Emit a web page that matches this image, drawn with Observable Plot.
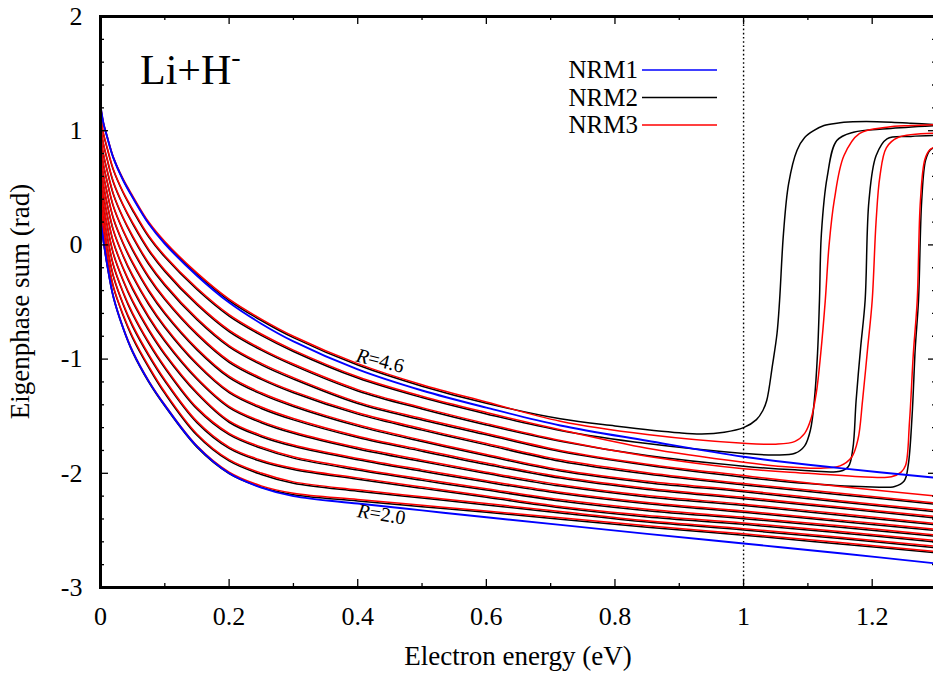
<!DOCTYPE html>
<html>
<head>
<meta charset="utf-8">
<script src="https://cdn.jsdelivr.net/npm/d3@7"></script>
<script src="https://cdn.jsdelivr.net/npm/@observablehq/plot@0.6"></script>
<style>
  html, body { margin: 0; padding: 0; background: #fff; overflow: hidden; }
  #chart svg { display: block; }
</style>
</head>
<body>
<div id="chart"></div>
<script>
// ---------------- DATA ----------------
// shared electron-energy grid (eV)
const energy = [0, 0.005, 0.01, 0.02, 0.035, 0.05, 0.075, 0.1, 0.15, 0.2, 0.25, 0.3, 0.4, 0.5, 0.6, 0.715, 0.85, 1.0, 1.15, 1.3];

// NRM1 (blue): only R=2.0 and R=4.6
const nrm1R20 = [0.22, 0.02, -0.16, -0.455, -0.725, -0.935, -1.195, -1.405, -1.765, -2.0, -2.125, -2.20, -2.265, -2.325, -2.385, -2.452, -2.53, -2.615, -2.70, -2.79];
const nrm1R46 = [1.22, 1.055, 0.952, 0.762, 0.568, 0.415, 0.185, 0.01, -0.27, -0.505, -0.69, -0.845, -1.09, -1.275, -1.425, -1.581, -1.715, -1.855, -1.955, -2.04];

// NRM3 (red): curves from R=4.6 (top) down to R=2.0 (bottom), values on the grid
const nrm3 = [
  [1.22, 1.06, 0.96, 0.77, 0.58, 0.43, 0.20, 0.03, -0.245, -0.475, -0.65, -0.80, -1.04, -1.225, -1.375, -1.544, -1.66],
  [1.132, 0.968, 0.861, 0.663, 0.467, 0.313, 0.08, -0.095, -0.378, -0.611, -0.78, -0.921, -1.154, -1.325, -1.468, -1.619, -1.78, -1.903],
  [1.044, 0.877, 0.763, 0.555, 0.355, 0.196, -0.039, -0.22, -0.512, -0.747, -0.91, -1.043, -1.267, -1.425, -1.565, -1.713, -1.85, -1.96],
  [0.957, 0.786, 0.665, 0.449, 0.243, 0.08, -0.158, -0.343, -0.643, -0.881, -1.038, -1.163, -1.377, -1.521, -1.651, -1.800, -1.92, -2.02, -2.115, -2.20],
  [0.87, 0.696, 0.568, 0.343, 0.132, -0.036, -0.276, -0.467, -0.775, -1.016, -1.166, -1.283, -1.47, -1.61, -1.739, -1.882, -1.995, -2.09, -2.175, -2.26],
  [0.783, 0.605, 0.471, 0.237, 0.021, -0.151, -0.394, -0.591, -0.907, -1.15, -1.295, -1.403, -1.575, -1.71, -1.835, -1.968, -2.07, -2.15, -2.24, -2.325],
  [0.698, 0.517, 0.375, 0.133, -0.088, -0.264, -0.51, -0.711, -1.036, -1.282, -1.42, -1.52, -1.675, -1.795, -1.91, -2.03, -2.13, -2.21, -2.295, -2.38],
  [0.613, 0.429, 0.28, 0.029, -0.197, -0.377, -0.626, -0.832, -1.165, -1.413, -1.545, -1.638, -1.775, -1.885, -1.99, -2.10, -2.195, -2.27, -2.355, -2.44],
  [0.53, 0.342, 0.187, -0.072, -0.303, -0.488, -0.738, -0.95, -1.29, -1.541, -1.668, -1.752, -1.87, -1.97, -2.065, -2.165, -2.255, -2.33, -2.41, -2.49],
  [0.448, 0.257, 0.095, -0.172, -0.408, -0.597, -0.85, -1.066, -1.425, -1.65, -1.77, -1.855, -1.96, -2.05, -2.135, -2.23, -2.315, -2.385, -2.46, -2.54],
  [0.368, 0.174, 0.006, -0.269, -0.511, -0.703, -0.959, -1.18, -1.545, -1.77, -1.885, -1.955, -2.04, -2.12, -2.198, -2.29, -2.37, -2.435, -2.51, -2.59],
  [0.292, 0.095, -0.079, -0.362, -0.608, -0.804, -1.062, -1.288, -1.655, -1.88, -1.998, -2.075, -2.145, -2.205, -2.265, -2.335, -2.415, -2.485, -2.56, -2.64],
  [0.22, 0.02, -0.16, -0.45, -0.72, -0.93, -1.19, -1.40, -1.76, -1.99, -2.11, -2.175, -2.23, -2.28, -2.33, -2.39, -2.46, -2.53, -2.607, -2.685]
];
// NRM3 resonance tails [energy, phase] for the three top curves
const nrm3Tails = [
  [[1.0,-1.737],[1.05,-1.745],[1.08,-1.72],[1.095,-1.65],[1.105,-1.52],[1.113,-1.30],[1.12,-0.95],[1.127,-0.49],[1.133,0.0],[1.141,0.389],[1.156,0.78],[1.18,0.975],[1.223,1.031],[1.26,1.045],[1.3,1.054]],
  [[1.06,-1.94],[1.12,-1.955],[1.15,-1.935],[1.168,-1.86],[1.178,-1.70],[1.185,-1.363],[1.193,-0.9],[1.2,-0.487],[1.206,0.2],[1.212,0.6],[1.222,0.85],[1.24,0.94],[1.3,0.978]],
  [[1.1,-2.0],[1.2,-2.035],[1.23,-2.03],[1.245,-1.99],[1.252,-1.93],[1.258,-1.55],[1.264,-0.95],[1.27,-0.487],[1.275,0.389],[1.282,0.75],[1.29,0.835],[1.3,0.86]]
];

// NRM2 (black)
const nrm2 = [
  [1.212, 1.052, 0.952, 0.762, 0.572, 0.418, 0.188, 0.018, -0.257, -0.487, -0.662, -0.812, -1.052, -1.237, -1.387],
  [1.124, 0.96, 0.853, 0.655, 0.459, 0.301, 0.068, -0.107, -0.39, -0.623, -0.792, -0.933, -1.166, -1.337, -1.48, -1.625, -1.74],
  [1.036, 0.869, 0.755, 0.547, 0.347, 0.184, -0.051, -0.232, -0.524, -0.759, -0.922, -1.055, -1.279, -1.437, -1.577, -1.72, -1.845],
  [0.949, 0.778, 0.657, 0.441, 0.235, 0.068, -0.17, -0.355, -0.655, -0.893, -1.05, -1.175, -1.389, -1.533, -1.663, -1.81, -1.93],
  [0.862, 0.688, 0.56, 0.335, 0.124, -0.048, -0.288, -0.479, -0.787, -1.028, -1.178, -1.295, -1.482, -1.622, -1.751, -1.894, -2.007, -2.102, -2.187, -2.272],
  [0.775, 0.597, 0.463, 0.229, 0.013, -0.163, -0.406, -0.603, -0.919, -1.162, -1.307, -1.415, -1.587, -1.722, -1.847, -1.98, -2.082, -2.162, -2.252, -2.337],
  [0.69, 0.509, 0.367, 0.125, -0.096, -0.276, -0.522, -0.723, -1.048, -1.294, -1.432, -1.532, -1.687, -1.807, -1.922, -2.042, -2.142, -2.222, -2.307, -2.392],
  [0.605, 0.421, 0.272, 0.021, -0.205, -0.389, -0.638, -0.844, -1.177, -1.425, -1.557, -1.65, -1.787, -1.897, -2.002, -2.112, -2.207, -2.282, -2.367, -2.452],
  [0.522, 0.334, 0.179, -0.08, -0.311, -0.5, -0.75, -0.962, -1.302, -1.553, -1.68, -1.764, -1.882, -1.982, -2.077, -2.177, -2.267, -2.342, -2.422, -2.502],
  [0.44, 0.249, 0.087, -0.18, -0.416, -0.609, -0.862, -1.078, -1.437, -1.662, -1.782, -1.867, -1.972, -2.062, -2.147, -2.242, -2.327, -2.397, -2.472, -2.552],
  [0.36, 0.166, -0.002, -0.277, -0.519, -0.715, -0.971, -1.192, -1.557, -1.782, -1.897, -1.967, -2.052, -2.132, -2.21, -2.302, -2.382, -2.447, -2.522, -2.602],
  [0.284, 0.087, -0.087, -0.37, -0.616, -0.816, -1.074, -1.3, -1.667, -1.892, -2.01, -2.087, -2.157, -2.217, -2.277, -2.347, -2.427, -2.497, -2.572, -2.652],
  [0.212, 0.012, -0.168, -0.458, -0.728, -0.942, -1.202, -1.412, -1.772, -2.002, -2.122, -2.187, -2.242, -2.292, -2.342, -2.402, -2.472, -2.542, -2.619, -2.697]
];
const nrm2Tails = [
  [[0.715,-1.523],[0.8,-1.585],[0.9,-1.645],[0.935,-1.655],[0.97,-1.64],[1.0,-1.60],[1.02,-1.53],[1.03,-1.45],[1.036,-1.363],[1.045,-1.05],[1.052,-0.776],[1.056,-0.487],[1.062,0.097],[1.07,0.535],[1.083,0.827],[1.095,0.94],[1.109,1.0],[1.125,1.045],[1.145,1.066],[1.17,1.078],[1.191,1.081],[1.23,1.075],[1.26,1.066],[1.3,1.052]],
  [[1.0,-1.826],[1.05,-1.84],[1.08,-1.825],[1.095,-1.76],[1.104,-1.62],[1.11,-1.363],[1.115,-0.95],[1.118,-0.487],[1.121,0.097],[1.13,0.593],[1.145,0.914],[1.171,0.987],[1.223,1.017],[1.3,1.045]],
  [[1.0,-1.938],[1.08,-1.97],[1.15,-1.982],[1.163,-1.94],[1.17,-1.78],[1.175,-1.363],[1.182,-0.9],[1.189,-0.487],[1.195,0.389],[1.206,0.78],[1.223,0.929],[1.26,0.95],[1.3,0.958]],
  [[1.0,-2.034],[1.1,-2.09],[1.2,-2.12],[1.235,-2.115],[1.25,-2.065],[1.256,-1.93],[1.262,-1.5],[1.267,-0.9],[1.272,-0.487],[1.277,0.389],[1.283,0.74],[1.29,0.83],[1.3,0.856]]
];

const xMajorTicks = [0, 0.2, 0.4, 0.6, 0.8, 1.0, 1.2];
const xMinorTicks = [0.1, 0.3, 0.5, 0.7, 0.9, 1.1, 1.3];
const yMajorTicks = [-3, -2, -1, 0, 1, 2];
const yMinorTicks = [-2.8, -2.6, -2.4, -2.2, -1.8, -1.6, -1.4, -1.2, -0.8, -0.6, -0.4, -0.2, 0.2, 0.4, 0.6, 0.8, 1.2, 1.4, 1.6, 1.8];
const legendItems = [["NRM1", "#0000ff"], ["NRM2", "#000000"], ["NRM3", "#ff0000"]];

// ---------------- build tables ----------------
function rowsFor(model, curves, tails) {
  const out = [];
  curves.forEach((ys, k) => {
    ys.forEach((y, i) => out.push({model, id: model + k, x: energy[i], y}));
    ((tails && tails[k]) || []).forEach(([x, y]) => out.push({model, id: model + k, x, y}));
  });
  return out;
}
const rows1 = rowsFor("NRM1", [nrm1R20, nrm1R46]);
const rows2 = rowsFor("NRM2", nrm2, nrm2Tails);
const rows3 = rowsFor("NRM3", nrm3, nrm3Tails);

const FONT = "'Liberation Serif', 'Times New Roman', serif";
const yt = 8 / 114.2, yt2 = 4 / 114.2;   // tick lengths in y units
const xt = 8 / 643.1, xt2 = 4 / 643.1;   // tick lengths in x units
const CURVE = "catmull-rom";

const plot = Plot.plot({
  width: 933,
  height: 673,
  marginLeft: 100,
  marginTop: 16,
  marginBottom: 86,
  marginRight: -3,
  x: {domain: [0, 1.3]},
  y: {domain: [-3, 2]},
  style: {fontFamily: FONT, fontSize: "26px", background: "white", overflow: "hidden", color: "black"},
  marks: [
    Plot.ruleX([1], {stroke: "black", strokeWidth: 1.4, strokeDasharray: "1.6,2.6"}),
    Plot.line(rows2, {x: "x", y: "y", z: "id", stroke: "#000", strokeWidth: 1.5, curve: CURVE, clip: true}),
    Plot.line(rows3, {x: "x", y: "y", z: "id", stroke: "#ff0000", strokeWidth: 1.5, curve: CURVE, clip: true}),
    Plot.line(rows1, {x: "x", y: "y", z: "id", stroke: "#0000ff", strokeWidth: 1.9, curve: CURVE, clip: true}),
    // inward ticks on all four sides
    Plot.ruleX(xMajorTicks, {y1: -3, y2: -3 + yt, stroke: "black", strokeWidth: 1.3}),
    Plot.ruleX(xMajorTicks, {y1: 2, y2: 2 - yt, stroke: "black", strokeWidth: 1.3}),
    Plot.ruleX(xMinorTicks, {y1: -3, y2: -3 + yt2, stroke: "black", strokeWidth: 1.3}),
    Plot.ruleX(xMinorTicks, {y1: 2, y2: 2 - yt2, stroke: "black", strokeWidth: 1.3}),
    Plot.ruleY(yMajorTicks, {x1: 0, x2: xt, stroke: "black", strokeWidth: 1.3}),
    Plot.ruleY(yMajorTicks, {x1: 1.3, x2: 1.3 - xt, stroke: "black", strokeWidth: 1.3}),
    Plot.ruleY(yMinorTicks, {x1: 0, x2: xt2, stroke: "black", strokeWidth: 1.3}),
    Plot.ruleY(yMinorTicks, {x1: 1.3, x2: 1.3 - xt2, stroke: "black", strokeWidth: 1.3}),
    Plot.frame({stroke: "black", strokeWidth: 3}),
    Plot.axisX(xMajorTicks, {tickSize: 0, tickPadding: 19, fontSize: 26, tickFormat: d => String(+d.toFixed(1)), label: null}),
    Plot.axisY(yMajorTicks, {tickSize: 0, tickPadding: 18, fontSize: 26, tickFormat: d => String(d), label: null}),
    Plot.text(["R=4.6"], {x: 0.435, y: -1.015, text: d => d, rotate: 14, fontSize: 20, className: "rlabel"}),
    Plot.text(["R=2.0"], {x: 0.437, y: -2.36, text: d => d, rotate: 9, fontSize: 20, className: "rlabel"})
  ]
});

const svg = d3.select(plot);
// italic R in the curve labels
svg.selectAll(".rlabel text").each(function () {
  const t = this.textContent;
  const s = d3.select(this);
  s.text(null);
  s.append("tspan").attr("font-style", "italic").text(t.slice(0, 1));
  s.append("tspan").text(t.slice(1));
});

// axis titles
svg.append("text").attr("x", 518).attr("y", 665).attr("text-anchor", "middle")
  .attr("font-family", FONT).attr("font-size", 27).attr("fill", "black").text("Electron energy (eV)");
svg.append("text").attr("transform", "translate(29,301.5) rotate(-90)").attr("text-anchor", "middle")
  .attr("font-family", FONT).attr("font-size", 27).attr("fill", "black").text("Eigenphase sum (rad)");

// system label
const sys = svg.append("text").attr("x", 140).attr("y", 84).attr("text-anchor", "start")
  .attr("font-family", FONT).attr("font-size", 42).attr("fill", "black");
sys.append("tspan").text("Li+H");
sys.append("tspan").attr("dy", -18).attr("font-size", 28).text("-");

// legend
const lg = svg.append("g");
legendItems.forEach(([name, color], i) => {
  const y = 70 + i * 27.5;
  lg.append("text").attr("x", 638).attr("y", y).attr("dy", "0.33em").attr("text-anchor", "end")
    .attr("font-family", FONT).attr("font-size", 25).attr("fill", "black").text(name);
  lg.append("line").attr("x1", 642).attr("x2", 717).attr("y1", y).attr("y2", y)
    .attr("stroke", color).attr("stroke-width", 1.5);
});

document.getElementById("chart").appendChild(plot);
</script>
</body>
</html>
